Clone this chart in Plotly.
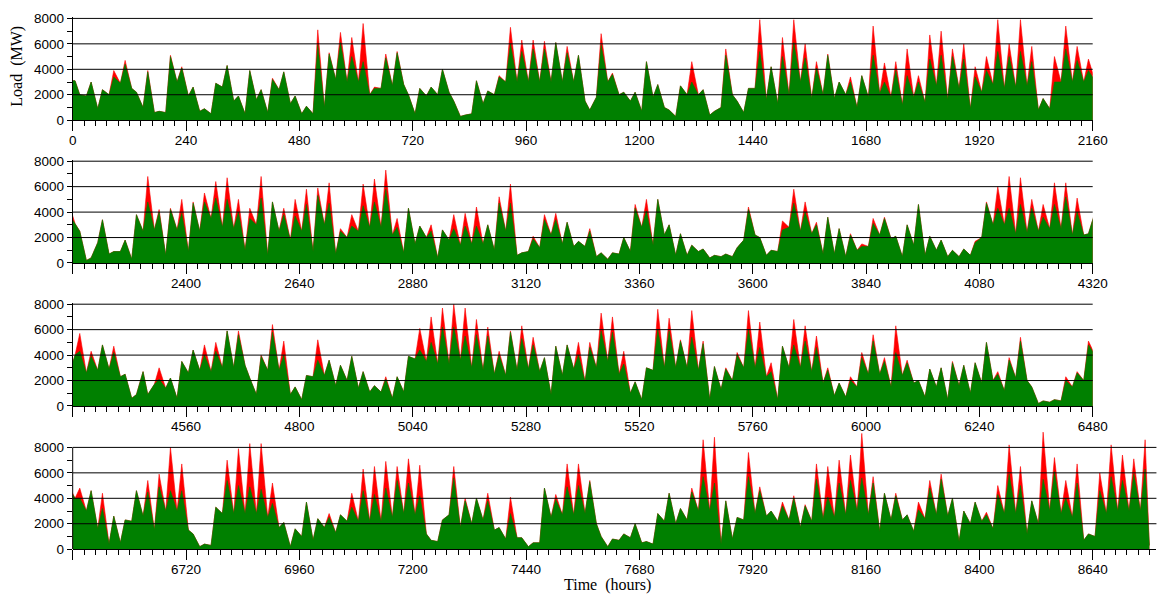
import plotly.graph_objects as go

# ---- Daily load profile, one value per day (MW) ----
# Night minimum, daily peak of total load (red) and daily peak of the base part (green).
# Quarter 1: days 0-89
low_q1 = [3100, 1900, 900, 2000, 2900, 2500, 1000, 600, 600, 3000,
          1900, 700, 500, 2600, 1500, 500, 1600, 600, 2400, 1300,
          500, 500, 1000, 3200, 3000, 3000, 2000, 2500, 2700, 2800,
          500, 1900, 2000, 2200, 300, 500, 1300, 2000, 3000, 3000,
          3000, 3000, 3000, 3000, 3000, 1500, 1800, 3000, 2000, 1500,
          700, 1800, 1000, 300, 2000, 2000, 400, 1000, 2000, 600,
          2500, 1600, 1300, 2000, 3000, 1700, 2000, 1700, 2000, 1000,
          1800, 2100, 1800, 1200, 1800, 1400, 2700, 1600, 2500, 900,
          2200, 2800, 2500, 2600, 2700, 800, 900, 3000, 3000, 3000]
total_q1 = [2000, 3000, 2400, 3900, 4700, 2200, 3900, 700, 5100, 4200,
            2600, 900, 2900, 4300, 1900, 3900, 2400, 3300, 3800, 1900,
            1100, 7100, 5300, 6900, 6500, 7600, 2600, 5200, 5400, 2000,
            2500, 2600, 4000, 1500, 400, 3100, 2300, 3500, 7300, 6300,
            6300, 6200, 6100, 5800, 5100, 800, 6800, 3700, 2200, 2200,
            4600, 2800, 800, 2700, 4600, 2400, 700, 5600, 1500, 2500,
            7900, 4200, 6500, 7900, 6000, 4600, 5200, 3000, 3400, 3500,
            7400, 4500, 4600, 5600, 3500, 6700, 7000, 5600, 6000, 4200,
            5000, 7900, 6000, 7900, 5800, 1700, 5000, 7400, 5800, 4800]
base_q1 = [2000, 3000, 2400, 3400, 4400, 2200, 3800, 700, 5000, 4100,
           2600, 900, 2900, 4300, 1900, 3900, 2400, 3200, 3800, 1900,
           1100, 5900, 5200, 6100, 5000, 4600, 2500, 4900, 5300, 2000,
           2500, 2600, 4000, 1500, 400, 3100, 2300, 3400, 6000, 5400,
           5600, 5600, 6100, 5300, 5100, 800, 5900, 3600, 2200, 2200,
           4600, 2800, 800, 2700, 3000, 2400, 700, 5100, 1500, 2500,
           5400, 4200, 5000, 6100, 4900, 4100, 5100, 3000, 3000, 3500,
           5100, 3000, 3900, 3500, 3000, 4800, 5100, 5000, 4800, 3400,
           3900, 5400, 5000, 5400, 4600, 1700, 3000, 5600, 4700, 3900]

# Quarter 2: days 90-179
low_q2 = [3100, 200, 1600, 700, 900, 300, 2500, 2600, 600, 2600,
          900, 2500, 3500, 2800, 2700, 1000, 3000, 600, 2500, 1800,
          2500, 900, 3000, 700, 2000, 2500, 2800, 2800, 2200, 800,
          1500, 2000, 400, 1800, 1400, 1500, 1500, 1000, 2500, 600,
          900, 1200, 2200, 1500, 1300, 1300, 500, 300, 700, 900,
          2800, 1400, 2200, 600, 600, 900, 400, 500, 500, 1800,
          2200, 600, 900, 2800, 2500, 2300, 700, 700, 500, 1000,
          1300, 2200, 1900, 500, 1400, 600, 1000, 500, 500, 600,
          2000, 3000, 3000, 2300, 2400, 2500, 2700, 2700, 2200, 2200]
total_q2 = [2500, 400, 3400, 900, 1800, 3800, 6800, 4200, 4300, 5000,
            4800, 5500, 6400, 6700, 5000, 4300, 6800, 4800, 4300, 5000,
            5800, 5900, 6300, 2700, 3800, 6200, 6600, 7300, 3500, 4300,
            2900, 3000, 2600, 3800, 3900, 4400, 3000, 5200, 6200, 800,
            2100, 3800, 3900, 3200, 1700, 2700, 800, 800, 2000, 4600,
            5000, 5000, 3000, 2300, 1400, 1100, 600, 700, 1200, 4400,
            2000, 1000, 3300, 5800, 4800, 3200, 3600, 2700, 2300, 1500,
            3500, 3600, 2100, 3000, 4600, 2100, 1800, 1000, 1100, 1700,
            4800, 6000, 6800, 6700, 5000, 4600, 6300, 6300, 5100, 2300]
base_q2 = [2500, 400, 3400, 900, 1800, 3800, 4800, 4000, 4200, 3900,
           4700, 4800, 5100, 5000, 4000, 3500, 5100, 4800, 3800, 3700,
           4600, 5300, 4700, 2500, 2900, 4500, 4800, 5800, 2800, 4300,
           2900, 2500, 2600, 2700, 2900, 2900, 3000, 4700, 4700, 800,
           1900, 3400, 3400, 3200, 1700, 2500, 800, 800, 2000, 4300,
           4100, 5000, 3000, 2300, 1400, 1100, 600, 700, 1200, 4200,
           2000, 1000, 2600, 4700, 4000, 3000, 3600, 2700, 2200, 1300,
           3100, 3500, 2100, 3000, 4600, 2100, 1800, 1000, 1100, 1600,
           4700, 4300, 4300, 4600, 4300, 3600, 4600, 5200, 4000, 2300]

# Quarter 3: days 180-269
low_q3 = [4000, 2600, 2800, 2900, 2300, 600, 2700, 1700, 1400, 600,
          2600, 2800, 2700, 3000, 3000, 3200, 900, 2800, 2800, 900,
          500, 2300, 2400, 1600, 2000, 1400, 1100, 1100, 600, 1100,
          3700, 3500, 3300, 3300, 3600, 3000, 2800, 2500, 2400, 2800,
          2900, 2700, 900, 2400, 2900, 1900, 3000, 3500, 2500, 1000,
          500, 2800, 3000, 3000, 3000, 2800, 500, 1300, 2000, 3000,
          3000, 2300, 500, 3000, 3000, 2700, 1800, 800, 700, 1500,
          2500, 2500, 1500, 2400, 1800, 700, 1500, 500, 1600, 1000,
          1800, 2000, 1200, 2200, 2000, 200, 300, 400, 1500, 2000]
total_q3 = [5700, 4300, 4800, 4700, 2500, 900, 900, 3000, 2200, 3500,
            4400, 4800, 5000, 5900, 5900, 2200, 4000, 6400, 5100, 1500,
            2400, 5200, 3600, 3200, 3900, 2700, 1600, 2300, 2300, 3900,
            6100, 7000, 7700, 8000, 7700, 6800, 6200, 4300, 5900, 6300,
            5400, 3800, 4700, 4800, 5000, 5000, 7300, 7000, 4300, 1900,
            3000, 7600, 6900, 5200, 7500, 5100, 3100, 3000, 4200, 7500,
            6600, 3400, 4700, 6800, 6300, 5500, 3000, 1800, 2300, 4200,
            5600, 3800, 6300, 3600, 2000, 2900, 3000, 3500, 3200, 3400,
            5000, 2700, 3800, 5400, 1500, 400, 500, 2300, 2700, 5100]
base_q3 = [4300, 3900, 4800, 4200, 2500, 900, 900, 2100, 2200, 3500,
           4400, 4000, 4300, 5900, 5600, 2200, 3900, 5800, 4000, 1500,
           2400, 3600, 3600, 3200, 3900, 2700, 1600, 2100, 2300, 3900,
           4400, 5000, 6200, 6200, 5500, 5600, 5500, 4000, 5800, 5300,
           4800, 3800, 4700, 4800, 4000, 4600, 5900, 5800, 3300, 1900,
           3000, 6000, 5900, 5100, 5400, 4900, 3100, 2900, 4000, 6000,
           4600, 2700, 4700, 4800, 5100, 4600, 2800, 1800, 2000, 3800,
           5100, 3500, 4200, 3400, 2000, 2900, 3000, 3400, 3200, 3400,
           5000, 2500, 3600, 5100, 1500, 400, 500, 2000, 2600, 4800]

# Quarter 4: days 270-364
low_q4 = [4000, 3000, 1600, 400, 500, 2200, 2600, 1500, 3000, 3000,
          1500, 200, 300, 2800, 2800, 2800, 2800, 2500, 1700, 200,
          1000, 700, 1700, 1300, 2200, 2200, 2200, 2200, 2500, 2800,
          2700, 1200, 600, 2700, 1700, 2000, 2300, 1500, 800, 900,
          200, 500, 2500, 2700, 2700, 2800, 2000, 200, 700, 900,
          500, 400, 2200, 2000, 2300, 3000, 3000, 400, 800, 2300,
          2800, 2600, 2200, 2300, 1700, 2200, 2400, 2500, 2700, 3000,
          2700, 1400, 2300, 2300, 1400, 2400, 2700, 2600, 600, 2000,
          2200, 1600, 2800, 2800, 1200, 2000, 3000, 2800, 2500, 700,
          1000, 2800, 3000, 3000, 3000]
total_q4 = [4800, 4600, 4400, 2600, 2300, 4600, 5400, 5900, 8000, 6700,
            1200, 400, 3300, 7000, 7900, 8300, 8300, 5200, 2100, 1600,
            3700, 2400, 2800, 2700, 4400, 6300, 6500, 6900, 6500, 7100,
            6600, 700, 2300, 6500, 4000, 4000, 4400, 1700, 4100, 900,
            500, 4800, 4300, 6700, 6700, 5400, 1000, 800, 1200, 2000,
            600, 2800, 4400, 3200, 4800, 8600, 8800, 3800, 2500, 7600,
            4900, 3000, 3700, 4200, 3500, 6700, 6500, 7000, 7400, 9100,
            5700, 4400, 4400, 2700, 3700, 5400, 5900, 4000, 3000, 3700,
            2900, 5000, 8200, 6500, 3800, 9200, 7200, 5400, 6700, 1200,
            6000, 8200, 7400, 7100, 8600]
base_q4 = [4000, 4600, 3200, 2600, 2300, 4600, 4500, 4900, 4600, 4600,
           1200, 400, 3300, 5400, 5000, 4900, 4700, 3600, 2100, 1600,
           3700, 2400, 2500, 2700, 3300, 4600, 4300, 4800, 5400, 5200,
           4200, 700, 2300, 5600, 3800, 4000, 3800, 1700, 2800, 900,
           500, 4800, 3900, 4900, 5000, 5300, 1000, 800, 1200, 2000,
           600, 2800, 4400, 3200, 4500, 5700, 5200, 3800, 2500, 5700,
           4600, 3000, 3400, 4000, 3400, 5500, 4100, 5200, 5400, 5600,
           5200, 4400, 4200, 2700, 3100, 4800, 5500, 4000, 3000, 3700,
           2700, 4300, 5900, 5000, 3800, 5500, 6100, 4000, 5200, 1200,
           4600, 5700, 5400, 5900, 6300]

year_end_load = 300

# hour span shown in each of the four rows
row_ranges = [(0, 2160), (2160, 4320), (4320, 6480), (6480, 8775)]

# ---- assemble the hourly time axis from the daily samples ----
day_low = low_q1 + low_q2 + low_q3 + low_q4
day_total = total_q1 + total_q2 + total_q3 + total_q4
day_base = base_q1 + base_q2 + base_q3 + base_q4

hours = [0]
total = [day_low[0]]
base = [day_low[0]]
for d in range(len(day_low)):
    hours += [24 * d + 5, 24 * d + 15]
    total += [day_low[d], day_total[d]]
    base += [day_low[d], day_base[d]]
hours.append(8760)
total.append(year_end_load)
base.append(year_end_load)

# ---- page geometry (pixels) ----
W, H = 1159, 594
left_px = 72.7
px_per_hour = 1020.0 / 2160.0
px_per_mw = 101.8 / 8000.0
zero_px = [120.2, 263.0, 406.0, 549.2]
ymax = [8100, 8100, 8100, 9700]

tick_font = dict(family="Liberation Sans, Arial, sans-serif", size=13.5, color="black")
title_font = dict(family="Liberation Serif, Times New Roman, serif", size=16, color="black")

fig = go.Figure()
layout = dict(
    width=W, height=H,
    margin=dict(l=0, r=0, t=0, b=0),
    paper_bgcolor="white", plot_bgcolor="white",
    showlegend=False, template="none",
)
shapes = []

for i, (h0, h1) in enumerate(row_ranges):
    n = "" if i == 0 else str(i + 1)
    xa, ya = "x" + n, "y" + n
    fig.add_trace(go.Scatter(x=hours, y=total, mode="lines", fill="tozeroy",
                             line=dict(color="#ff0000", width=0.6), fillcolor="#ff0000",
                             xaxis=xa, yaxis=ya, hoverinfo="skip"))
    fig.add_trace(go.Scatter(x=hours, y=base, mode="lines", fill="tozeroy",
                             line=dict(color="#008000", width=0.6), fillcolor="#008000",
                             xaxis=xa, yaxis=ya, hoverinfo="skip"))

    x_end_px = left_px + (h1 - h0) * px_per_hour
    top_px = zero_px[i] - ymax[i] * px_per_mw
    tickvals = list(range(h0, h1 + 1, 240))
    ticktext = [str(v) if (v != h0 or i == 0) else "" for v in tickvals]

    layout["xaxis" + n] = dict(
        domain=[left_px / W, x_end_px / W], anchor=ya, range=[h0, h1],
        tickmode="array", tickvals=tickvals, ticktext=ticktext,
        ticks="outside", ticklen=10, tickwidth=1, tickcolor="black",
        showline=True, linecolor="black", linewidth=1,
        showgrid=False, zeroline=False, automargin=False,
        tickfont=tick_font, ticklabelstandoff=-2,
        minor=dict(tickmode="linear", tick0=0, dtick=24, ticks="outside",
                   ticklen=5, tickwidth=1, tickcolor="black", showgrid=False),
    )
    layout["yaxis" + n] = dict(
        domain=[1 - zero_px[i] / H, 1 - top_px / H], anchor=xa, range=[0, ymax[i]],
        tickmode="array", tickvals=[0, 2000, 4000, 6000, 8000],
        ticktext=["0", "2000", "4000", "6000", "8000"],
        ticks="outside", ticklen=5, tickwidth=1, tickcolor="black",
        showline=(i < 3), linecolor="black", linewidth=1,
        showgrid=False, zeroline=False, automargin=False, tickfont=tick_font,
        minor=dict(tickmode="array", tickvals=[1000, 3000, 5000, 7000], ticks="outside",
                   ticklen=5, tickwidth=1, tickcolor="black", showgrid=False),
    )
    # horizontal reference lines drawn over the load areas
    for v in (2000, 4000, 6000, 8000):
        shapes.append(dict(type="line", xref=xa + " domain", yref=ya,
                           x0=0, x1=1, y0=v, y1=v,
                           line=dict(color="black", width=1), layer="above"))
    if i == 3:
        shapes.append(dict(type="line", xref=xa + " domain", yref=ya,
                           x0=0, x1=0, y0=0, y1=8000,
                           line=dict(color="black", width=1), layer="above"))

layout["shapes"] = shapes
layout["annotations"] = [
    dict(text="Load\u00a0 (MW)", textangle=-90, x=16.7 / W, y=1 - 66 / H,
         xref="paper", yref="paper", xanchor="center", yanchor="middle",
         showarrow=False, font=title_font),
    dict(text="Time\u00a0 (hours)", x=607.5 / W, y=1 - 585 / H,
         xref="paper", yref="paper", xanchor="center", yanchor="middle",
         showarrow=False, font=title_font),
]
fig.update_layout(**layout)
fig.write_html("out.html")
